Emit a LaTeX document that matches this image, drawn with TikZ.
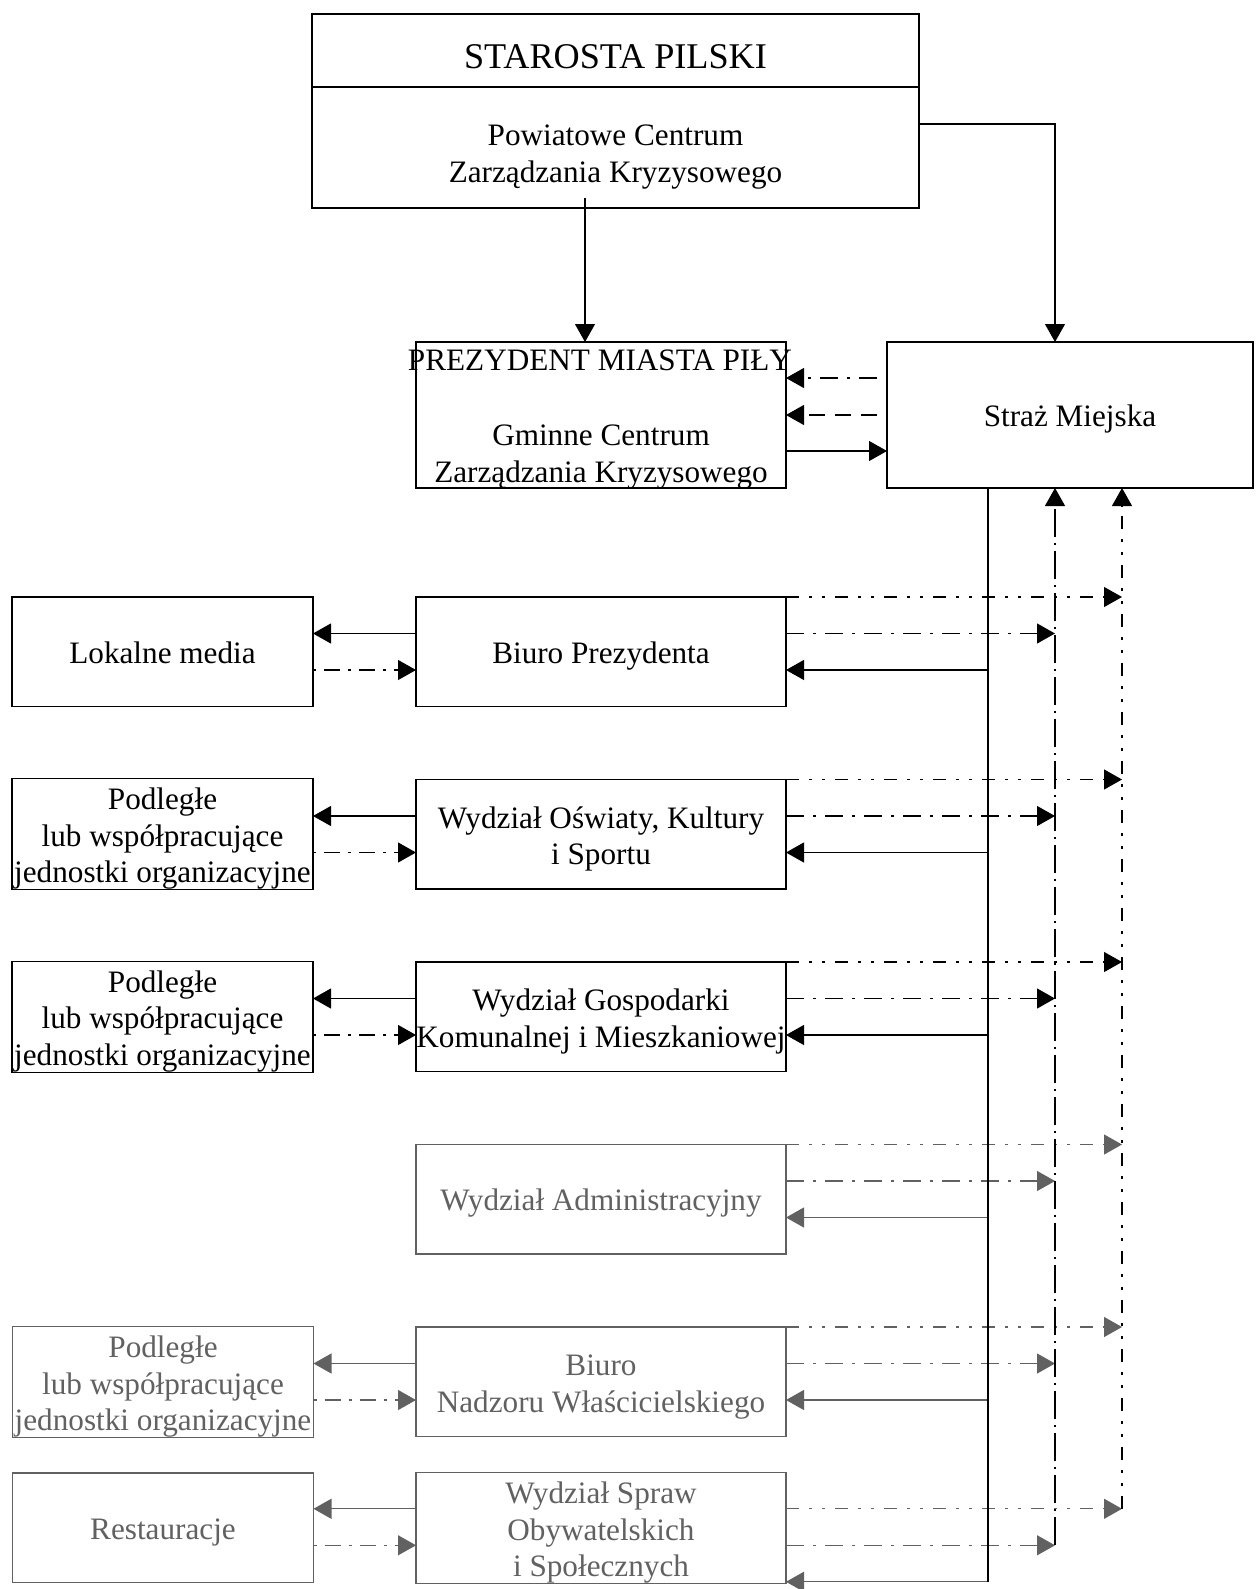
\documentclass[tikz,border=0pt]{standalone}
\usepackage{fontspec}
\setmainfont{Liberation Serif}
\usetikzlibrary{arrows.meta,calc}
\newcommand\dgn{\fontsize{15.6pt}{18.25pt}\selectfont}
\newcommand\dgb{\fontsize{18.1pt}{20pt}\selectfont}
\newcommand\sst{\rule[-4pt]{0pt}{19.6pt}}
\newcommand\sth{\rule{0pt}{15.6pt}}
\definecolor{fade}{gray}{0.38}
\begin{document}
\begin{tikzpicture}[x=0.5pt,y=-0.5pt,
  every node/.style={inner sep=0pt,outer sep=0pt},
  frame/.style={draw,line width=0.6pt},
  box/.style={frame,align=center,font=\dgn,minimum height=54.75pt},
  midbox/.style={box,minimum width=185pt},
  leftbox/.style={box,minimum width=150.5pt},
  txt/.style={align=center,font=\dgn},
  conn/.style={line width=0.6pt},
  arr/.style={conn,-{Triangle[length=9pt,width=10pt]}},
  ddot/.style={dash pattern=on 6.5pt off 5pt on 1.5pt off 5pt on 1.5pt off 5pt},
  ddash/.style={dash pattern=on 9pt off 4.5pt on 1.5pt off 4.5pt},
  vdash/.style={dash pattern=on 14pt off 3pt on 1pt off 3pt},
  ldash/.style={dash pattern=on 1.5pt off 4pt on 8pt off 4pt},
  sdash/.style={dash pattern=on 8pt off 5pt},
]
\useasboundingbox (0,0) rectangle (1255,1589);

% Starosta
\node[frame,minimum width=303.5pt,minimum height=36.5pt] (startop) at (615.5,50.5) {};
\node[frame,minimum width=303.5pt,minimum height=60.5pt] (pczk) at (615.5,147.5) {};
\node[font=\dgb] (startxt) at (615.5,57) {STAROSTA PILSKI};
\node[txt] (pczktxt) at (615.5,157) {Powiatowe Centrum\\Zarządzania Kryzysowego};

% Prezydent
\node[frame,minimum width=185pt,minimum height=73pt] (prez) at (601,415) {};
\node[txt] (preztitle) at (600,360) {PREZYDENT MIASTA PIŁY};
\node[txt] (gczk) at (601,457) {Gminne Centrum\\Zarządzania Kryzysowego};

% Straz
\node[box,minimum width=183pt,minimum height=73pt] (straz) at (1070,415) {\sst Straż Miejska};

% rows
\node[midbox] (mid1) at (601,651.75) {\sst Biuro Prezydenta};
\node[leftbox] (left1) at (162.5,651.75) {\sst Lokalne media};
\node[midbox] (mid2) at (601,834.25) {\sth Wydział Oświaty, Kultury\\i Sportu};
\node[leftbox] (left2) at (162.5,834.25) {\sth Podległe\\lub współpracujące\\jednostki organizacyjne};
\node[midbox] (mid3) at (601,1016.75) {\sth Wydział Gospodarki\\Komunalnej i Mieszkaniowej};
\node[leftbox] (left3) at (162.5,1016.75) {\sth Podległe\\lub współpracujące\\jednostki organizacyjne};
\node[midbox,fade] (mid4) at (601,1199.25) {\sst Wydział Administracyjny};
\node[midbox,fade] (mid5) at (601,1381.75) {\sth Biuro\\Nadzoru Właścicielskiego};
\node[leftbox,fade] (left5) at (163,1381.75) {\sth Podległe\\lub współpracujące\\jednostki organizacyjne};
\node[midbox,fade] (mid6) at (601,1527.75) {\sth Wydział Spraw\\Obywatelskich\\i Społecznych};
\node[leftbox,fade] (left6) at (163,1527.75) {\sst Restauracje};

% helper x positions
\coordinate (sp) at (988,0);
\coordinate (vA) at (1055,0);
\coordinate (vB) at (1122,0);

% top connectors
\coordinate (sa) at (585,198);
\draw[arr] (sa) -- (sa |- prez.north);
\coordinate (sb) at (919,124);
\draw[arr] (sb) -| (straz.north -| vA);

% Prezydent <-> Straz
\coordinate (pa) at (877,378);
\coordinate (pb) at (877,415);
\coordinate (pc) at (786,451);
\draw[arr,ddash] (pa) -- (pa -| prez.east);
\draw[arr,sdash] (pb) -- (pb -| prez.east);
\draw[arr] (pc) -- (pc -| straz.west);

% right connectors
\foreach \i/\o/\c in {1/0/black,2/0/black,3/0/black,4/0/fade,5/0/fade,6/36.5/fade}{
  \coordinate (ra-\i) at ($(mid\i.north east)+(0,\o)$);
  \coordinate (rb-\i) at ($(mid\i.north east)+(0,\o+36.5)$);
  \coordinate (rc-\i) at ($(mid\i.north east)+(0,\o+73)$);
  \draw[arr,ddot,\c] (ra-\i) -- (ra-\i -| vB);
  \draw[arr,ddash,\c] (rb-\i) -- (rb-\i -| vA);
  \draw[arr,\c] (rc-\i -| sp) -- (rc-\i);
}

% left connectors
\foreach \i/\c in {1/black,2/black,3/black,5/fade,6/fade}{
  \coordinate (la-\i) at ($(mid\i.north west)+(0,36.5)$);
  \coordinate (lb-\i) at ($(mid\i.north west)+(0,73)$);
  \draw[arr,\c] (la-\i) -- (la-\i -| left\i.east);
  \draw[arr,ldash,\c] (lb-\i -| left\i.east) -- (lb-\i);
}

% verticals
\draw[conn] (straz.south -| sp) -- (rc-6 -| sp);
\draw[arr,vdash] (rb-6 -| vA) -- (straz.south -| vA);
\draw[arr,ddot] (ra-6 -| vB) -- (straz.south -| vB);
\end{tikzpicture}
\end{document}
